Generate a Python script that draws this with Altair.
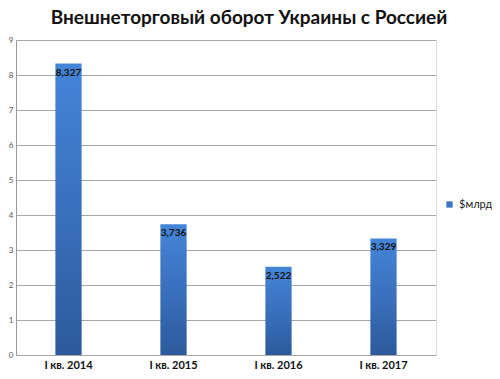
import altair as alt
import pandas as pd

categories = ["I кв. 2014", "I кв. 2015", "I кв. 2016", "I кв. 2017"]
values = [8.327, 3.736, 2.522, 3.329]
labels = ["8,327", "3,736", "2,522", "3,329"]
series = "$млрд"
y_ticks = [0, 1, 2, 3, 4, 5, 6, 7, 8, 9]

df = pd.DataFrame({"cat": categories, "val": values, "lab": labels, "series": series})

FONT = "Lato"

x = alt.X("cat:N", sort=categories, title=None,
          scale=alt.Scale(paddingInner=0.75, paddingOuter=0.375),
          axis=alt.Axis(labelAngle=0, labelFontWeight="bold", labelFontSize=11, labelColor="#111",
                        labelFont=FONT, labelPadding=4, ticks=False, domain=False, grid=False))
y = alt.Y("val:Q", title=None,
          scale=alt.Scale(domain=[0, 9], nice=False, zero=True),
          axis=alt.Axis(values=y_ticks, tickCount=20, format="d", labelFontSize=8, labelColor="#555",
                        labelFont=FONT, labelPadding=3, labelOverlap=False, ticks=False, domain=True,
                        domainColor="#999", gridColor="#a8a8a8", gridWidth=1, gridOpacity=1))

grad = alt.LinearGradient(gradient="linear",
                          stops=[alt.GradientStop(color="#4485d8", offset=0),
                                 alt.GradientStop(color="#3a70bd", offset=0.5),
                                 alt.GradientStop(color="#2c5a9c", offset=1)],
                          x1=0, x2=0, y1=0, y2=1)

bars = alt.Chart(df).mark_bar(color=grad).encode(x=x, y=y)

legend_layer = alt.Chart(df).mark_square(opacity=0, size=1).encode(
    x=x, y=y,
    color=alt.Color("series:N", title=None,
                    scale=alt.Scale(range=["#3b74c4"]),
                    legend=alt.Legend(orient="none", legendX=428, legendY=159, padding=0,
                                      symbolType="square", symbolSize=40, symbolOpacity=1,
                                      labelOffset=4,
                                      labelFontSize=11, labelFont=FONT, labelColor="#222"))
)

text = alt.Chart(df).mark_text(dy=9, fontWeight="bold", fontSize=10, font=FONT, color="#111").encode(
    x=x, y=y, text="lab:N")

chart = alt.layer(bars, legend_layer, text).properties(
    width=420, height=315,
    title=alt.TitleParams("Внешнеторговый оборот Украины с Россией", font=FONT, fontSize=19,
                          fontWeight="bold", color="#111", anchor="middle", dx=23, offset=8),
    autosize=alt.AutoSizeParams(type="none"),
    padding={"left": 8, "top": 32, "right": 56, "bottom": 16},
).configure_view(stroke=None).configure(background="white")

chart.save("out.html", embed_options={"renderer": "svg", "actions": False})
